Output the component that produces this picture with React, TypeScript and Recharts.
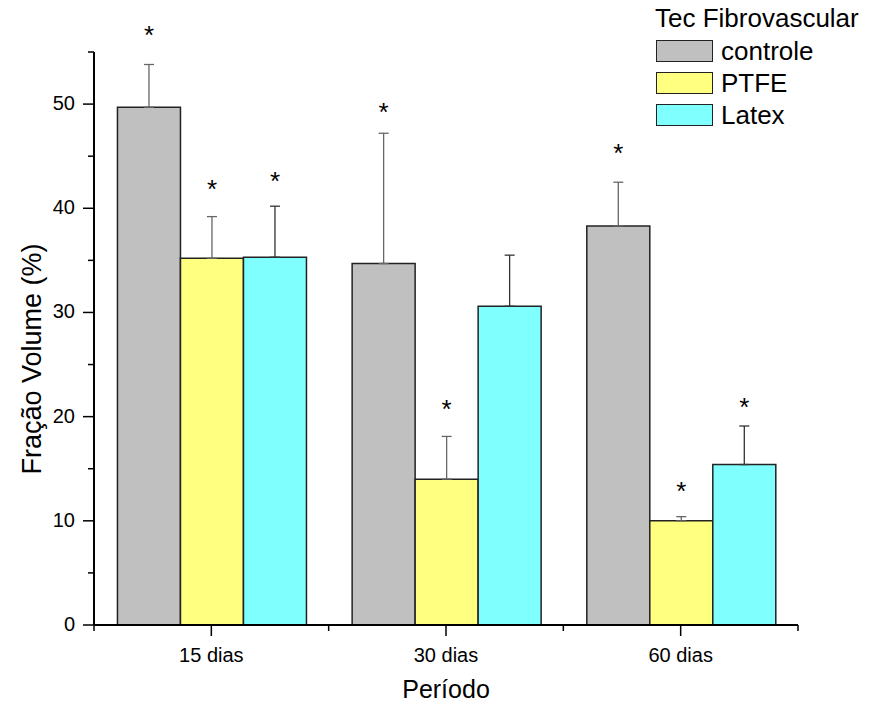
import React from 'react';
import { BarChart, Bar, XAxis, YAxis, ErrorBar, LabelList, Legend } from 'recharts';

const categories = ['15 dias', '30 dias', '60 dias'];
const seriesNames = ['controle', 'PTFE', 'Latex'];
const controle = [49.7, 34.7, 38.3];
const controleErr = [4.1, 12.5, 4.2];
const ptfe = [35.2, 14.0, 10.0];
const ptfeErr = [4.0, 4.1, 0.4];
const latex = [35.3, 30.6, 15.4];
const latexErr = [4.9, 4.9, 3.7];
// asterisk centre positions in value units (null = no asterisk)
const controleStar: (number | null)[] = [57.2, 49.8, 45.9];
const ptfeStar: (number | null)[] = [42.4, 21.3, 13.4];
const latexStar: (number | null)[] = [43.2, null, 21.5];
const yTicks = [0, 5, 10, 15, 20, 25, 30, 35, 40, 45, 50, 55];

const data = categories.map((name, i) => ({
  name,
  controle: controle[i],
  cErr: [0, controleErr[i]],
  cStar: controleStar[i],
  ptfe: ptfe[i],
  pErr: [0, ptfeErr[i]],
  pStar: ptfeStar[i],
  latex: latex[i],
  lErr: [0, latexErr[i]],
  lStar: latexStar[i],
}));

const FONT = '"Liberation Sans", Arial, Helvetica, sans-serif';

const YTick = (props: any) => {
  const { x, y, payload } = props;
  const major = payload.value % 10 === 0;
  return (
    <g>
      <line x1={x} x2={x - (major ? 11 : 6)} y1={y} y2={y} stroke="#000" strokeWidth={1.5} />
      {major && (
        <text x={x - 19} y={y + 6} textAnchor="end" fontSize={20} fontFamily={FONT} fill="#000">
          {payload.value}
        </text>
      )}
    </g>
  );
};

const XTick = (props: any) => {
  const { x, y, payload, index } = props;
  const half = payload.offset || 117.3;
  return (
    <g>
      <line x1={x} x2={x} y1={y} y2={y + 11} stroke="#000" strokeWidth={1.5} />
      <line x1={x - half} x2={x - half} y1={y} y2={y + 6} stroke="#000" strokeWidth={1.5} />
      {index === categories.length - 1 && (
        <line x1={x + half} x2={x + half} y1={y} y2={y + 6} stroke="#000" strokeWidth={1.5} />
      )}
      <text x={x} y={y + 37} textAnchor="middle" fontSize={20} fontFamily={FONT} fill="#000">
        {payload.value}
      </text>
    </g>
  );
};

const makeStar = (values: number[]) => (props: any) => {
  const vb = props.viewBox ?? props;
  const { value } = props;
  if (value == null) return null;
  let idx = props.index;
  if (idx == null) idx = categories.indexOf(props.payload?.name);
  const v = values[idx];
  if (!v || !vb || vb.height == null) return null;
  const pxPerUnit = vb.height / v;
  const cy = vb.y + vb.height - value * pxPerUnit;
  return (
    <text x={vb.x + vb.width / 2} y={cy + 15} textAnchor="middle" fontSize={26} fontFamily={FONT} fill="#000">
      *
    </text>
  );
};

const YTitle = () => (
  <text transform="translate(40.5, 359) rotate(-90)" textAnchor="middle" fontSize={27} fontFamily={FONT} fill="#000">
    Fração Volume (%)
  </text>
);

const XTitle = () => (
  <text x={446} y={698} textAnchor="middle" fontSize={25} fontFamily={FONT} fill="#000">
    Período
  </text>
);

const LegendContent = (props: any) => {
  const raw = props.payload || [];
  const payload = [...raw].sort(
    (a: any, b: any) => seriesNames.indexOf(a.value) - seriesNames.indexOf(b.value)
  );
  return (
    <div style={{ position: 'relative', width: 869, height: 140, fontFamily: FONT, color: '#000' }}>
      <div
        style={{
          position: 'absolute',
          left: 655,
          top: 5.5,
          fontSize: 25,
          lineHeight: '25px',
          whiteSpace: 'nowrap',
          transform: 'scaleX(1.04)',
          transformOrigin: 'left',
        }}
      >
        Tec Fibrovascular
      </div>
      {payload.map((p: any, i: number) => (
        <React.Fragment key={p.value}>
          <div
            style={{
              position: 'absolute',
              left: 656,
              top: 39.5 + 32 * i,
              width: 57,
              height: 22,
              boxSizing: 'border-box',
              border: '1.5px solid #222',
              background: p.color,
            }}
          />
          <div
            style={{
              position: 'absolute',
              left: 721,
              top: 38.8 + 32 * i,
              fontSize: 25,
              lineHeight: '25px',
              whiteSpace: 'nowrap',
              transform: 'scaleX(1.04)',
              transformOrigin: 'left',
            }}
          >
            {p.value}
          </div>
        </React.Fragment>
      ))}
    </div>
  );
};

export default function App() {
  return (
    <div style={{ position: 'absolute', left: 0, top: 0, width: 869, height: 706, background: '#fff' }}>
      <BarChart
        width={869}
        height={706}
        data={data}
        margin={{ top: 52, right: 71, bottom: 0, left: 0 }}
        barCategoryGap="10%"
        barGap={0}
      >
        <XAxis
          dataKey="name"
          height={81}
          interval={0}
          tickLine={false}
          tickSize={0}
          tickMargin={0}
          axisLine={{ stroke: '#000', strokeWidth: 2 }}
          tick={<XTick />}
          label={<XTitle />}
        />
        <YAxis
          type="number"
          width={94}
          domain={[0, 55]}
          ticks={yTicks}
          interval={0}
          tickLine={false}
          tickSize={0}
          tickMargin={0}
          axisLine={{ stroke: '#000', strokeWidth: 2 }}
          tick={<YTick />}
          label={<YTitle />}
        />
        <Legend
          layout="horizontal"
          verticalAlign="middle"
          align="center"
          content={<LegendContent />}
          wrapperStyle={{ left: 0, top: 0, width: 869, height: 140 }}
        />
        <Bar dataKey="controle" name="controle" fill="#C0C0C0" stroke="#222" strokeWidth={1.5} isAnimationActive={false}>
          <ErrorBar dataKey="cErr" width={5} stroke="#666" strokeWidth={1.3} direction="y" />
          <LabelList dataKey="cStar" content={makeStar(controle)} />
        </Bar>
        <Bar dataKey="ptfe" name="PTFE" fill="#FFFF80" stroke="#222" strokeWidth={1.5} isAnimationActive={false}>
          <ErrorBar dataKey="pErr" width={5} stroke="#666" strokeWidth={1.3} direction="y" />
          <LabelList dataKey="pStar" content={makeStar(ptfe)} />
        </Bar>
        <Bar dataKey="latex" name="Latex" fill="#80FFFF" stroke="#222" strokeWidth={1.5} isAnimationActive={false}>
          <ErrorBar dataKey="lErr" width={5} stroke="#333" strokeWidth={1.3} direction="y" />
          <LabelList dataKey="lStar" content={makeStar(latex)} />
        </Bar>
      </BarChart>
    </div>
  );
}
